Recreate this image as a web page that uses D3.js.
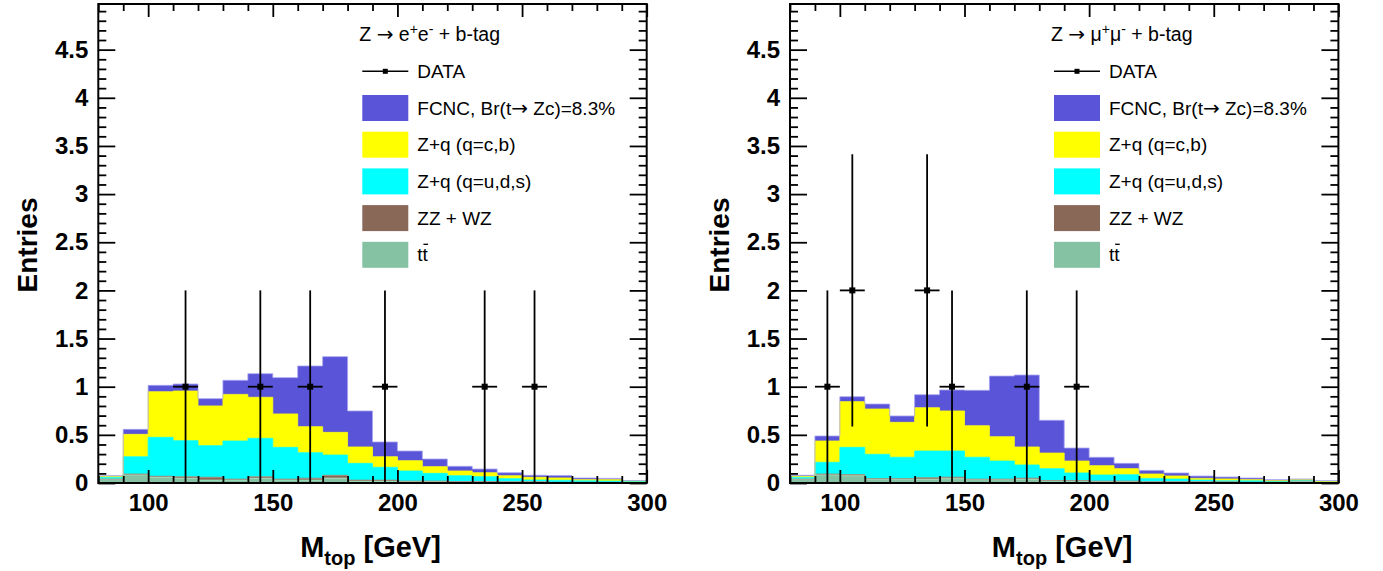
<!DOCTYPE html>
<html><head><meta charset="utf-8">
<script src="https://cdn.jsdelivr.net/npm/d3@7"></script>
<style>body{margin:0;background:#fff} svg{display:block}</style>
</head><body><svg id="c" width="1383" height="571"></svg>
<script>
// ---- data ----
const binLow = [80,90,100,110,120,130,140,150,160,170,180,190,200,210,220,230,240,250,260,270,280,290];
const binWidth = 10;
const seriesKeys = ["ttbar","zz","zqLight","zqHeavy","fcnc"];
const seriesLabels = ["FCNC, Br(t","\u2192"," Zc)=8.3%","Z+q (q=c,b)","Z+q (q=u,d,s)","ZZ + WZ","tt"];
const seriesColors = {fcnc:"#5954d8", zqHeavy:"#ffff00", zqLight:"#00ffff", zz:"#8a6858", ttbar:"#85c2a4"};

// electron channel
const ee_ttbar  = [0.04,0.085,0.06,0.05,0.03,0.03,0.05,0.03,0.03,0.05,0.02,0.02,0.015,0.015,0.01,0.01,0.01,0.01,0.005,0.005,0.005,0.005];
const ee_zz     = [0,0.008,0.01,0.015,0.03,0.01,0.015,0.01,0.02,0.03,0.01,0.01,0.005,0.005,0.005,0.005,0.003,0.003,0.003,0.003,0.003,0.002];
const ee_zqLight= [0.02,0.18,0.404,0.375,0.328,0.396,0.399,0.33,0.265,0.21,0.174,0.133,0.105,0.08,0.061,0.051,0.032,0.018,0.02,0.016,0.012,0.013];
const ee_zqHeavy= [0.01,0.232,0.474,0.515,0.412,0.484,0.426,0.347,0.27,0.236,0.17,0.11,0.107,0.07,0.049,0.041,0.031,0.028,0.024,0.011,0.015,0.002];
const ee_fcnc   = [0.006,0.052,0.066,0.073,0.076,0.146,0.245,0.377,0.63,0.786,0.374,0.153,0.1,0.079,0.048,0.038,0.031,0.021,0.025,0.017,0.013,0.004];
const ee_dataX  = [115,145,165,195,235,255];
const ee_dataN  = [1,1,1,1,1,1];

// muon channel
const mm_ttbar  = [0.04,0.085,0.075,0.04,0.04,0.04,0.045,0.035,0.035,0.04,0.02,0.02,0.015,0.015,0.01,0.01,0.01,0.01,0.005,0.01,0.02,0.005];
const mm_zz     = [0,0.008,0.012,0.005,0.005,0.015,0.015,0.005,0.005,0.01,0.005,0.005,0.005,0.005,0.003,0.003,0.003,0.003,0.003,0.003,0.003,0.002];
const mm_zqLight= [0.02,0.122,0.283,0.253,0.222,0.277,0.272,0.227,0.188,0.137,0.124,0.079,0.063,0.066,0.035,0.028,0.017,0.011,0.016,0.002,0.007,0.008];
const mm_zqHeavy= [0.01,0.221,0.475,0.47,0.363,0.45,0.416,0.328,0.253,0.187,0.162,0.124,0.097,0.063,0.045,0.032,0.018,0.018,0.011,0.009,0.005,0];
const mm_fcnc   = [0.01,0.052,0.051,0.052,0.066,0.135,0.218,0.367,0.629,0.747,0.34,0.135,0.087,0.055,0.038,0.031,0.024,0.02,0.017,0.011,0.007,0.009];
const mm_dataX  = [95,105,135,145,175,195];
const mm_dataN  = [1,2,2,1,1,1];

const xTicks = [100,150,200,250,300];
const yTicks = [0,0.5,1,1.5,2,2.5,3,3.5,4,4.5];
const xDomain = [80,300];
const yDomain = [0,4.974];

// ---- layout ----
const svg = d3.select("#c");
const FONT = "'Liberation Sans', Arial, Helvetica, sans-serif";
const SYM = "'DejaVu Sans', sans-serif";

const panels = [
  {x0:98.3, x1:646.7, title:["Z ","\u2192"," e","+","e","-"," + b-tag"],
   series:{ttbar:ee_ttbar,zz:ee_zz,zqLight:ee_zqLight,zqHeavy:ee_zqHeavy,fcnc:ee_fcnc}, dx:ee_dataX, dn:ee_dataN},
  {x0:790, x1:1338.4, title:["Z ","\u2192"," \u03bc","+","\u03bc","-"," + b-tag"],
   series:{ttbar:mm_ttbar,zz:mm_zz,zqLight:mm_zqLight,zqHeavy:mm_zqHeavy,fcnc:mm_fcnc}, dx:mm_dataX, dn:mm_dataN}
];
const yTop = 4, yBot = 483;

panels.forEach(p => {
  const g = svg.append("g");
  const x = d3.scaleLinear().domain(xDomain).range([p.x0, p.x1]);
  const y = d3.scaleLinear().domain(yDomain).range([yBot, yTop]);

  // stacked histogram
  const rows = binLow.map((b,i) => {
    const r = {x:b};
    seriesKeys.forEach(k => r[k] = p.series[k][i]);
    return r;
  });
  const last = Object.assign({}, rows[rows.length-1], {x: binLow[binLow.length-1] + binWidth});
  const stacked = d3.stack().keys(seriesKeys)(rows.concat([last]));
  const area = d3.area().curve(d3.curveStepAfter)
    .x(d => x(d.data.x)).y0(d => y(d[0])).y1(d => y(d[1]));
  const line = d3.line().curve(d3.curveStepAfter).x(d => x(d.data.x)).y(d => y(d[1]));
  stacked.forEach(s => {
    g.append("path").attr("d", area(s)).attr("fill", seriesColors[s.key]);
  });
  stacked.forEach(s => {
    const c = d3.color(seriesColors[s.key]).brighter(0.6);
    g.append("path").attr("d", line(s)).attr("fill","none")
      .attr("stroke", s.key==="fcnc" ? "#a6a3f0" : c).attr("stroke-width", 1).attr("opacity", 0.8);
  });

  // data points
  const dg = g.append("g").attr("stroke","#000").attr("stroke-width",1.8);
  p.dx.forEach((cx,i) => {
    const n = p.dn[i], e = Math.sqrt(n);
    dg.append("line").attr("x1", x(cx)).attr("x2", x(cx)).attr("y1", y(Math.max(0,n-e))).attr("y2", y(n+e));
    dg.append("line").attr("x1", x(cx-binWidth/2)).attr("x2", x(cx+binWidth/2)).attr("y1", y(n)).attr("y2", y(n));
    dg.append("rect").attr("x", x(cx)-3).attr("y", y(n)-3).attr("width",6).attr("height",6).attr("fill","#000").attr("stroke","none");
  });

  // axes / ticks
  const minorY = d3.range(0, 50).map(i => i/10).filter(v => Math.abs(v*2 - Math.round(v*2)) > 1e-6);
  const minorX = d3.range(80, 301, 10).filter(v => v % 50 !== 0);
  const styleAxis = sel => { sel.select(".domain").remove(); sel.selectAll("line").attr("stroke","#000").attr("stroke-width",1.8); };

  g.append("g").attr("transform",`translate(${p.x0},0)`)
    .call(d3.axisLeft(y).tickValues(yTicks).tickSize(-17).tickSizeOuter(0).tickPadding(10).tickFormat(d => String(d)))
    .call(styleAxis)
    .selectAll("text").attr("font-family",FONT).attr("font-weight","bold").attr("font-size",24).attr("fill","#000");
  g.append("g").attr("transform",`translate(${p.x0},0)`)
    .call(d3.axisLeft(y).tickValues(minorY).tickSize(-8).tickFormat("")).call(styleAxis);
  g.append("g").attr("transform",`translate(${p.x1},0)`)
    .call(d3.axisRight(y).tickValues(yTicks).tickSize(-17).tickFormat("")).call(styleAxis);
  g.append("g").attr("transform",`translate(${p.x1},0)`)
    .call(d3.axisRight(y).tickValues(minorY).tickSize(-8).tickFormat("")).call(styleAxis);

  g.append("g").attr("transform",`translate(0,${yBot})`)
    .call(d3.axisBottom(x).tickValues(xTicks).tickSize(-13).tickPadding(9).tickFormat(d => String(d)))
    .call(styleAxis)
    .selectAll("text").attr("font-family",FONT).attr("font-weight","bold").attr("font-size",24).attr("fill","#000").attr("dy","0.8em");
  g.append("g").attr("transform",`translate(0,${yBot})`)
    .call(d3.axisBottom(x).tickValues(minorX).tickSize(-7).tickFormat("")).call(styleAxis);
  g.append("g").attr("transform",`translate(0,${yTop})`)
    .call(d3.axisTop(x).tickValues(xTicks).tickSize(-13).tickFormat("")).call(styleAxis);
  g.append("g").attr("transform",`translate(0,${yTop})`)
    .call(d3.axisTop(x).tickValues(minorX).tickSize(-7).tickFormat("")).call(styleAxis);

  // frame
  g.append("rect").attr("x",p.x0).attr("y",yTop).attr("width",p.x1-p.x0).attr("height",yBot-yTop)
    .attr("fill","none").attr("stroke","#000").attr("stroke-width",2);

  // axis titles
  g.append("text").attr("transform",`translate(${p.x0-61},245) rotate(-90)`)
    .attr("text-anchor","middle").attr("font-family",FONT).attr("font-weight","bold").attr("font-size",28)
    .text("Entries");
  const xt = g.append("text").attr("x",(p.x0+p.x1)/2 - 2).attr("y",557).attr("text-anchor","middle")
    .attr("font-family",FONT).attr("font-weight","bold").attr("font-size",29);
  xt.append("tspan").text("M");
  xt.append("tspan").attr("font-size",20).attr("dy",8).text("top");
  xt.append("tspan").attr("dy",-8).text(" [GeV]");

  // legend
  const lx = p.x0 + 261;
  const step = 36.7;
  const lg = g.append("g").attr("font-family",FONT).attr("font-size",19).attr("fill","#000");
  const tt = lg.append("text").attr("x",lx).attr("y",34.6).attr("dy","0.35em").attr("font-size",19.5);
  tt.append("tspan").text(p.title[0]);
  tt.append("tspan").attr("font-family",SYM).attr("font-size",20).text(p.title[1]);
  tt.append("tspan").text(p.title[2]);
  tt.append("tspan").attr("font-size",14).attr("dy",-7).text(p.title[3]);
  tt.append("tspan").attr("dy",7).text(p.title[4]);
  tt.append("tspan").attr("font-size",14).attr("dy",-7).text(p.title[5]);
  tt.append("tspan").attr("dy",7).text(p.title[6]);

  const bx = lx + 3, bw = 46, bh = 26, tx = lx + 58;
  const rowY = i => 34.6 + step*(i+1);
  // DATA
  lg.append("line").attr("x1",bx).attr("x2",bx+bw).attr("y1",rowY(0)).attr("y2",rowY(0)).attr("stroke","#000").attr("stroke-width",1.5);
  lg.append("rect").attr("x",bx+bw/2-2.5).attr("y",rowY(0)-2.5).attr("width",5).attr("height",5).attr("fill","#000");
  lg.append("text").attr("x",tx).attr("y",rowY(0)).attr("dy","0.35em").text("DATA");
  const legKeys = ["fcnc","zqHeavy","zqLight","zz","ttbar"];
  const legText = [[seriesLabels[0],seriesLabels[1],seriesLabels[2]],[seriesLabels[3]],[seriesLabels[4]],[seriesLabels[5]],[seriesLabels[6]]];
  legKeys.forEach((k,i) => {
    const yy = rowY(i+1);
    lg.append("rect").attr("x",bx).attr("y",yy-bh/2).attr("width",bw).attr("height",bh).attr("fill",seriesColors[k]);
    const t = lg.append("text").attr("x",tx).attr("y",yy).attr("dy","0.35em");
    legText[i].forEach(s => {
      const ts = t.append("tspan").text(s);
      if (s === "\u2192") ts.attr("font-family",SYM).attr("font-size",20);
    });
    if (k === "ttbar") {
      const bb = t.node().getBBox();
      const w = bb.width/2;
      lg.append("line").attr("x1",tx+w+0.5).attr("x2",tx+2*w-0.5).attr("y1",yy-10.5).attr("y2",yy-10.5).attr("stroke","#000").attr("stroke-width",1.3);
    }
  });
});
</script>
</body></html>
